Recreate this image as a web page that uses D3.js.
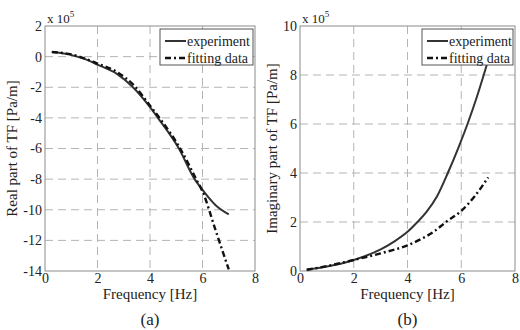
<!DOCTYPE html>
<html>
<head>
<meta charset="utf-8">
<script src="https://cdn.jsdelivr.net/npm/d3@7"></script>
<style>
  body { margin: 0; background: #fff; }
</style>
</head>
<body>
<div id="chart"></div>
<script>
// values in units of 1e5 Pa/m, frequency in Hz
const realExpFreq = [0.26, 0.95, 1.5, 2, 2.74, 3.35, 4, 4.3, 5.1, 5.7, 6, 6.5, 7];
const realExpVal = [0.3, 0.13, -0.15, -0.52, -1.13, -2, -3.3, -4, -6, -8, -8.7, -9.7, -10.3];
const realFitFreq = [0.26, 1, 2, 2.74, 3.4, 4, 4.36, 5.15, 5.76, 6, 6.5, 7];
const realFitVal = [0.3, 0.15, -0.45, -1.0, -1.9, -3.2, -4, -6, -8, -8.8, -11.35, -13.9];

const imagExpFreq = [0.25, 1, 2, 3, 3.5, 4, 4.37, 4.7, 5.1, 5.5, 5.9, 6.25, 6.58, 6.85, 7];
const imagExpVal = [0.05, 0.18, 0.45, 0.88, 1.2, 1.6, 2.0, 2.4, 3.05, 4.0, 5.05, 6.05, 7.1, 8.05, 8.6];
const imagFitFreq = [0.25, 1, 2, 3, 4, 4.5, 5, 5.43, 6, 6.5, 7];
const imagFitVal = [0.05, 0.2, 0.45, 0.72, 1.05, 1.3, 1.62, 2.0, 2.45, 3.05, 3.82];

const xTicks = [0, 2, 4, 6, 8];
const realTicks = [2, 0, -2, -4, -6, -8, -10, -12, -14];
const imagTicks = [0, 2, 4, 6, 8, 10];
const legendLabels = ['experiment', 'fitting data'];

const serif = 'Liberation Serif';

const svg = d3.select('#chart').append('svg')
  .attr('width', 520)
  .attr('height', 330);

function zip(xs, ys) {
  return xs.map((x, i) => [x, ys[i]]);
}

function drawPanel(opts) {
  const x = d3.scaleLinear().domain([0, 8]).range([opts.left, opts.right]);
  const y = d3.scaleLinear().domain(opts.yDomain).range([opts.bottom, opts.top]);
  const g = svg.append('g');

  // dashed grid
  g.append('g').selectAll('line')
    .data(xTicks.slice(1, -1))
    .join('line')
    .attr('x1', d => x(d)).attr('x2', d => x(d))
    .attr('y1', opts.top).attr('y2', opts.bottom)
    .attr('stroke', '#b4b4b4').attr('stroke-dasharray', '8,5');
  g.append('g').selectAll('line')
    .data(opts.yTicks.filter(d => d !== opts.yDomain[0] && d !== opts.yDomain[1]))
    .join('line')
    .attr('x1', opts.left).attr('x2', opts.right)
    .attr('y1', d => y(d)).attr('y2', d => y(d))
    .attr('stroke', '#b4b4b4').attr('stroke-dasharray', '8,5');

  // axes
  const xAxis = g.append('g')
    .attr('transform', `translate(0,${opts.bottom})`)
    .call(d3.axisBottom(x).tickValues(xTicks).tickFormat(d => String(d)).tickSize(0).tickPadding(2));
  const yAxis = g.append('g')
    .attr('transform', `translate(${opts.left},0)`)
    .call(d3.axisLeft(y).tickValues(opts.yTicks).tickFormat(d => String(d)).tickSize(0).tickPadding(3));
  [xAxis, yAxis].forEach(a => {
    a.attr('font-size', 14);
    a.select('.domain').remove();
  });

  g.append('rect')
    .attr('x', opts.left).attr('y', opts.top)
    .attr('width', opts.right - opts.left).attr('height', opts.bottom - opts.top)
    .attr('fill', 'none').attr('stroke', '#8c8c8c');

  // multiplier
  const mult = g.append('text')
    .attr('x', opts.left + 2).attr('y', opts.top - 3)
    .attr('font-size', 13);
  mult.append('tspan').text('x 10');
  mult.append('tspan').attr('dy', -6).attr('font-size', 9).text('5');

  const line = d3.line()
    .x(d => x(d[0]))
    .y(d => y(d[1]))
    .curve(d3.curveMonotoneX);

  g.append('path')
    .datum(zip(opts.expF, opts.expV))
    .attr('d', line)
    .attr('fill', 'none').attr('stroke', '#333').attr('stroke-width', 2);
  g.append('path')
    .datum(zip(opts.fitF, opts.fitV))
    .attr('d', line)
    .attr('fill', 'none').attr('stroke', '#111').attr('stroke-width', 2.4)
    .attr('stroke-dasharray', '6,3,2,3');

  // legend
  const lg = g.append('g').attr('transform', `translate(${opts.legendX},29)`);
  lg.append('rect')
    .attr('width', opts.right - 2 - opts.legendX).attr('height', 36)
    .attr('fill', '#fff').attr('stroke', '#555');
  lg.selectAll('line')
    .data(legendLabels)
    .join('line')
    .attr('x1', 5).attr('x2', 26)
    .attr('y1', (d, i) => 12 + i * 17).attr('y2', (d, i) => 12 + i * 17)
    .attr('stroke', (d, i) => i ? '#111' : '#333')
    .attr('stroke-width', (d, i) => i ? 2.4 : 2)
    .attr('stroke-dasharray', (d, i) => i ? '6,3,2,3' : null);
  lg.selectAll('text')
    .data(legendLabels)
    .join('text')
    .attr('x', 27).attr('y', (d, i) => 16.5 + i * 17)
    .attr('font-size', 14)
    .text(d => d);

  // labels
  const cx = (opts.left + opts.right) / 2;
  g.append('text')
    .attr('x', cx).attr('y', 299)
    .attr('text-anchor', 'middle').attr('font-size', 15)
    .text('Frequency [Hz]');
  g.append('text')
    .attr('x', cx).attr('y', 325)
    .attr('text-anchor', 'middle').attr('font-size', 17)
    .text(opts.caption);
  g.append('text')
    .attr('transform', `translate(${opts.yLabelX},${(opts.top + opts.bottom) / 2}) rotate(-90)`)
    .attr('text-anchor', 'middle').attr('font-size', 15)
    .text(opts.yLabel);
}

drawPanel({
  left: 45, right: 255, top: 26, bottom: 271,
  yDomain: [-14, 2], yTicks: realTicks,
  expF: realExpFreq, expV: realExpVal, fitF: realFitFreq, fitV: realFitVal,
  legendX: 160, caption: '(a)', yLabel: 'Real part of TF [Pa/m]', yLabelX: 17
});

drawPanel({
  left: 300, right: 515, top: 26, bottom: 271,
  yDomain: [0, 10], yTicks: imagTicks,
  expF: imagExpFreq, expV: imagExpVal, fitF: imagFitFreq, fitV: imagFitVal,
  legendX: 422, caption: '(b)', yLabel: 'Imaginary part of TF [Pa/m]', yLabelX: 277
});

// one serif face for every label
svg.selectAll('text, g').attr('font-family', serif);
svg.selectAll('text').attr('fill', '#222');
</script>
</body>
</html>
